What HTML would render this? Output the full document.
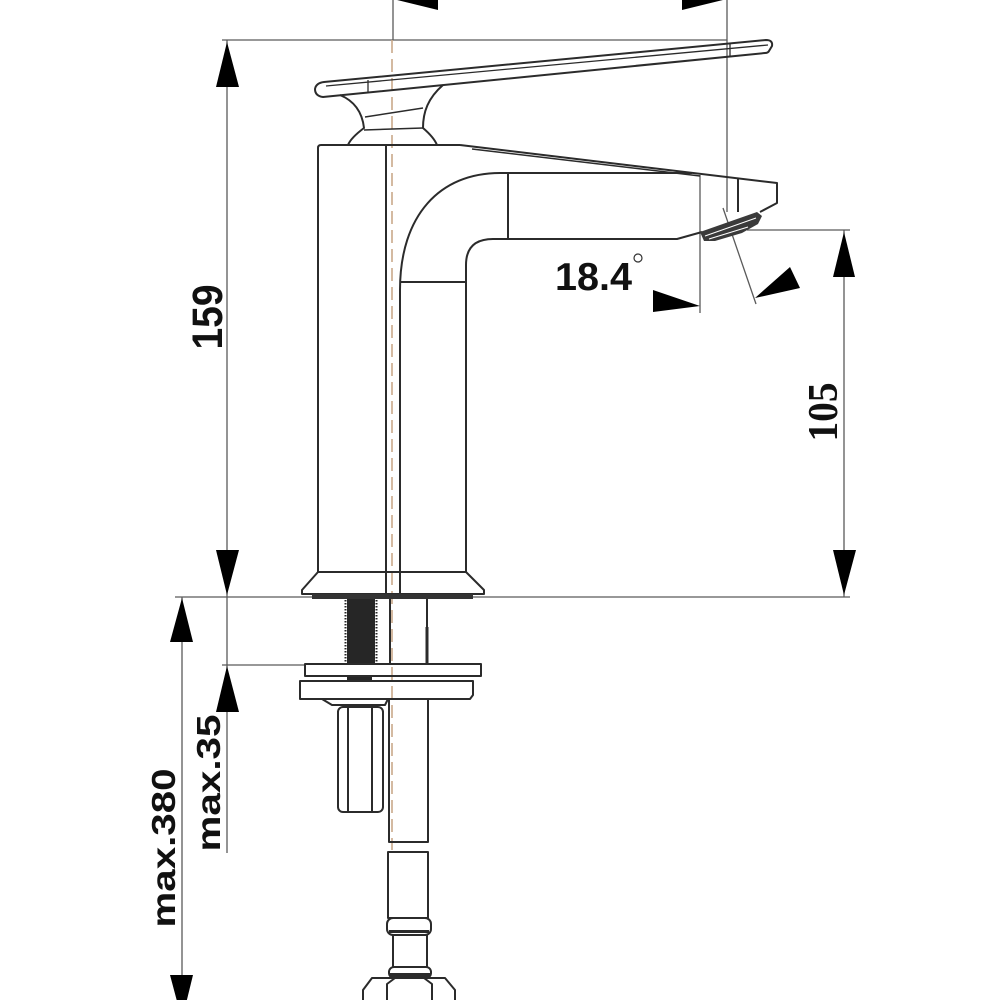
<!DOCTYPE html>
<html><head><meta charset="utf-8"><style>html,body{margin:0;padding:0;background:#fff}svg{display:block}</style></head>
<body>
<svg width="1000" height="1000" viewBox="0 0 1000 1000" xmlns="http://www.w3.org/2000/svg">
<rect width="1000" height="1000" fill="#fff"/>
<!-- dimension / extension lines -->
<g fill="none" stroke="#5a5a5a" stroke-width="1.3">
 <line x1="222" y1="40" x2="727" y2="40"/>
 <line x1="227" y1="40" x2="227" y2="853"/>
 <line x1="727" y1="0" x2="727" y2="212"/>
 <line x1="393" y1="0" x2="393" y2="40"/>
 <line x1="175" y1="597" x2="850" y2="597"/>
 <line x1="747" y1="230" x2="850" y2="230"/>
 <line x1="844" y1="230" x2="844" y2="597"/>
 <line x1="182" y1="597" x2="182" y2="1000"/>
 <line x1="222" y1="665" x2="305" y2="665"/>
 <line x1="700" y1="175" x2="700" y2="313"/>
 <line x1="723" y1="208" x2="756" y2="304"/>
</g>
<!-- center line -->
<line x1="392" y1="40" x2="392" y2="850" stroke="#c9a98a" stroke-width="1.6" stroke-dasharray="13 6"/>
<!-- arrows -->
<g fill="#000">
 <polygon points="227,42 216,87 239,87"/>
 <polygon points="227,595 216,550 239,550"/>
 <polygon points="844,232 833,277 855,277"/>
 <polygon points="844,595 833,550 856,550"/>
 <polygon points="182,598 170,642 193,642"/>
 <polygon points="182,1020 170,975 193,975"/>
 <polygon points="227,666 216,712 239,712"/>
 <polygon points="393,-1 438,-12 438,10"/>
 <polygon points="727,-1 682,-12 682,10"/>
 <polygon points="700,306 653,290 653,312"/>
 <polygon points="755,298 790,267 800,288"/>
</g>
<!-- faucet outlines -->
<g fill="none" stroke="#2b2b2b" stroke-width="2" stroke-linejoin="round">
 <!-- lever -->
 <path d="M324,82 L766,40 Q773,40 772,46 L769,51 Q768,53 765,53 L323,97 Q315,96 315,89 Q316,83 324,82 Z"/>
 <path d="M326,86 L768,45" stroke-width="1.3"/>
 <path d="M368,80 L368,93" stroke-width="1.3"/>
 <path d="M730,43 L730,57" stroke-width="1.3"/>
 <path d="M340,95 C352,100 362,110 364,128 C356,134 350,140 348,145"/>
 <path d="M443,85 C428,98 423,112 423,128 C430,134 435,140 437,145"/>
 <path d="M364,130 L423,128" stroke-width="1.5"/>
 <path d="M365,117 L423,108" stroke-width="1.5"/>
 <!-- body -->
 <path d="M318,572 L318,148 Q318,145 321,145 L460,145"/>
 <path d="M460,145 L777,183 L777,203 L760,212"/>
 <path d="M472,149 L700,176" stroke-width="1.5"/>
 <path d="M500,173 L692,173"/>
 <path d="M400,594 L400,290 C400,215 440,173 500,173"/>
 <path d="M508,173 L508,239"/>
 <path d="M466,572 L466,265 Q466,239 493,239 L677,239 L702,232"/>
 <path d="M400,282 L466,282"/>
 <path d="M386,145 L386,594"/>
 <path d="M738,178 L738,212"/>
 <!-- base flange -->
 <path d="M318,572 L466,572 L484,590 L484,594 L302,594 L302,590 Z"/>
</g>
<rect x="312" y="594" width="161" height="5" fill="#333"/>
<!-- aerator -->
<polygon points="700,232 757,212 762,216 758,224 742,233 715,241 704,241" fill="#3a3a3a"/>
<g stroke="#fff" stroke-width="1">
 <line x1="705" y1="236" x2="756" y2="218"/>
 <line x1="709" y1="239" x2="748" y2="227"/>
</g>
<!-- mounting hardware -->
<rect x="347" y="599" width="28" height="66" fill="#262626"/>
<g stroke="#262626" stroke-width="2" stroke-dasharray="1.5 1.5">
 <line x1="345.5" y1="600" x2="345.5" y2="664"/>
 <line x1="376.5" y1="600" x2="376.5" y2="664"/>
</g>
<rect x="347" y="676" width="25" height="6" fill="#262626"/>
<g fill="none" stroke="#2b2b2b" stroke-width="2" stroke-linejoin="round">
 <line x1="390" y1="599" x2="390" y2="665"/>
 <line x1="427" y1="599" x2="427" y2="627"/>
 <line x1="427" y1="627" x2="427" y2="665" stroke-width="3"/>
 <rect x="305" y="664" width="176" height="12"/>
 <path d="M300,681 L473,681 L473,695 L470,699 L300,699 Z"/>
 <path d="M322,699 L332,705 L385,705 L388,699"/>
 <rect x="338" y="707" width="45" height="105" rx="5"/>
 <line x1="348" y1="707" x2="348" y2="812"/>
 <line x1="372" y1="707" x2="372" y2="812"/>
 <rect x="389" y="699" width="39" height="143"/>
 <rect x="388" y="852" width="40" height="66"/>
 <rect x="387" y="918" width="44" height="17" rx="6"/>
 <line x1="390" y1="931" x2="428" y2="931"/>
 <rect x="393" y="935" width="34" height="32"/>
 <rect x="389" y="967" width="42" height="11" rx="5"/>
 <path d="M363,1002 L363,990 L372,978 L445,978 L455,990 L455,1002"/>
 <path d="M387,1002 L387,984 L395,978 M432,1002 L432,984 L424,978"/>
</g>
<g fill="#2b2b2b">
 <rect x="390" y="973" width="40" height="4"/>
 <rect x="389" y="930" width="40" height="3"/>
</g>
<!-- labels -->
<g font-family="'Liberation Sans', sans-serif" font-weight="bold" fill="#111">
 <text transform="translate(222,317) rotate(-90)" text-anchor="middle" font-size="43" textLength="65" lengthAdjust="spacingAndGlyphs">159</text>
 <text transform="translate(175,848) rotate(-90)" text-anchor="middle" font-size="33" textLength="159" lengthAdjust="spacingAndGlyphs">max.380</text>
 <text transform="translate(220,783) rotate(-90)" text-anchor="middle" font-size="33" textLength="137" lengthAdjust="spacingAndGlyphs">max.35</text>
 <text x="555" y="290" font-size="39" textLength="77" lengthAdjust="spacingAndGlyphs">18.4</text>
</g>
<circle cx="638" cy="258" r="4" fill="none" stroke="#333" stroke-width="1.2"/>
<text transform="translate(837,412) rotate(-90)" text-anchor="middle" font-family="'Liberation Serif', serif" font-weight="bold" font-size="42" textLength="59" lengthAdjust="spacingAndGlyphs" fill="#111">105</text>
</svg>
</body></html>
